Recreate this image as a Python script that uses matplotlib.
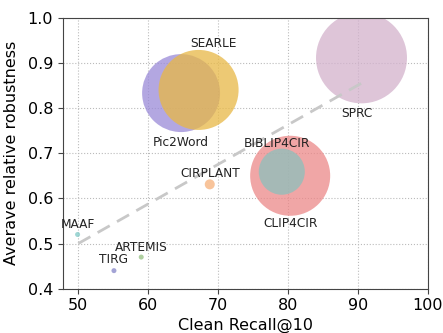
import matplotlib
matplotlib.use("Agg")
import matplotlib.pyplot as plt

# Methods: clean Recall@10, average relative robustness, bubble size
methods = ["SPRC", "Pic2Word", "SEARLE", "CLIP4CIR", "BIBLIP4CIR",
           "CIRPLANT", "MAAF", "ARTEMIS", "TIRG"]
recall = [90.5, 64.7, 67.2, 80.3, 79.1, 68.8, 49.9, 59.0, 55.1]
robustness = [0.911, 0.833, 0.840, 0.650, 0.659, 0.631, 0.520, 0.470, 0.440]
bubble = [4290, 3150, 3320, 3320, 1100, 52, 13, 13, 13]

# Trend line endpoints
trend_x = [50.0, 90.5]
trend_y = [0.50, 0.855]

colors = ["#d3b2cc", "#9a8ad8", "#e8b845", "#ec8888", "#8cc0bc",
          "#f6b07a", "#7fc9c6", "#94c080", "#8585c8"]
label_offsets = {
    "SPRC": (-3.4, -40.3), "Pic2Word": (0, -35.5), "SEARLE": (10.8, 33.1),
    "CLIP4CIR": (0, -34.3), "BIBLIP4CIR": (-3.6, 20.4), "CIRPLANT": (0, 7.9),
    "MAAF": (0, 7.0), "ARTEMIS": (0, 7.2), "TIRG": (0, 7.9),
}

fig = plt.figure(figsize=(4.43, 3.33), dpi=100)
ax = fig.add_axes([0.142, 0.133, 0.824, 0.814])

for name, x, y, s, c in zip(methods, recall, robustness, bubble, colors):
    ax.scatter(x, y, s=s, color=c, alpha=0.75, edgecolors="none", zorder=2)
    dx, dy = label_offsets[name]
    ax.annotate(name, (x, y), xytext=(dx, dy), textcoords="offset points",
                ha="center", va="center", fontsize=8.7, color="#222222", zorder=4)

ax.plot(trend_x, trend_y, linestyle=(0, (5, 3)), color="#c8c8c8", lw=2, zorder=3)

ax.set_xlim(47.8, 100)
ax.set_ylim(0.4, 1.0)
ax.set_xticks([50, 60, 70, 80, 90, 100])
ax.set_yticks([0.4, 0.5, 0.6, 0.7, 0.8, 0.9, 1.0])
ax.tick_params(labelsize=11.5, color="#444444")
ax.grid(True, linestyle=":", color="#bbbbbb", lw=0.8, zorder=0)
ax.set_axisbelow(True)
for sp in ax.spines.values():
    sp.set_color("#444444")

ax.set_xlabel("Clean Recall@10", fontsize=11.5, labelpad=3)
ax.set_ylabel("Averave relative robustness", fontsize=11.5, labelpad=6)

fig.savefig("out.png", dpi=100)
